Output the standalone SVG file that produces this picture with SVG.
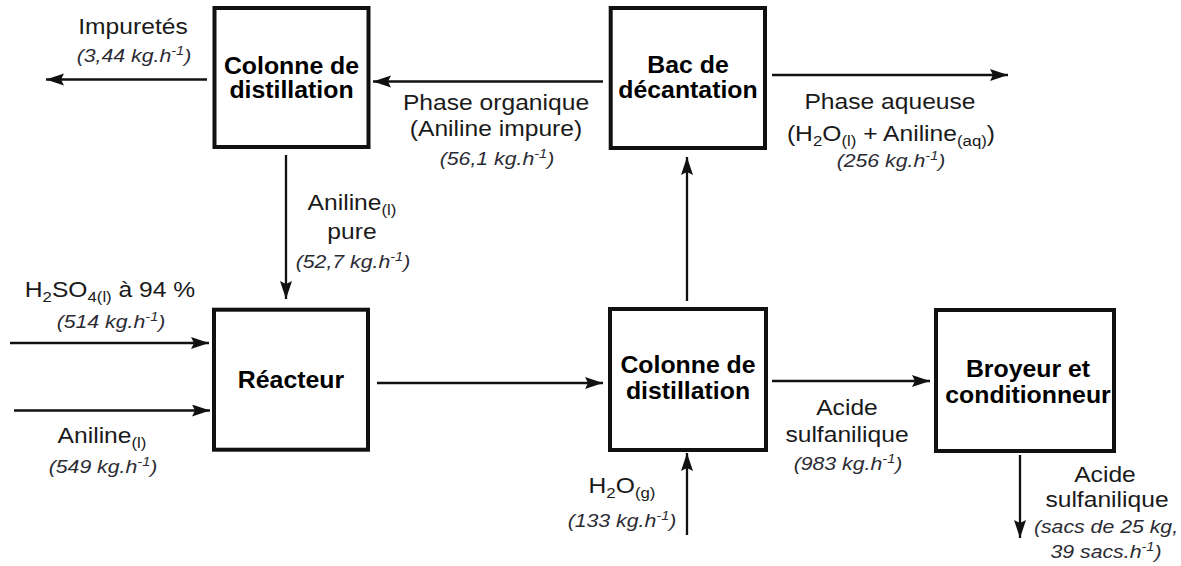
<svg xmlns="http://www.w3.org/2000/svg" width="1181" height="566" viewBox="0 0 1181 566">
<style>
  .box { fill: #fff; stroke: #111; stroke-width: 4; }
  .ln { fill: none; stroke: #111; stroke-width: 2.3; marker-end: url(#arr); }
  text { font-family: "Liberation Sans", Arial, sans-serif; text-anchor: middle; transform-box: fill-box; transform-origin: center; transform: scaleX(1.12); }
  .r { font-size: 22px; fill: #1a1a1a; }
  .b { font-size: 23px; font-weight: bold; fill: #000; transform: scaleX(1.08); }
  .i { font-size: 19px; font-style: italic; fill: #2b2b33; }
  .sub { font-size: 15px; }
  .sup { font-size: 13px; }
</style>
<defs>
  <marker id="arr" markerUnits="userSpaceOnUse" markerWidth="20" markerHeight="14" refX="18" refY="6" orient="auto">
    <path d="M0,0 L18,6 L0,12 L3,6 z" fill="#111"/>
  </marker>
</defs>

<g id="connectors">
  <line class="ln" x1="207" y1="79.5" x2="46" y2="79.5"/>
  <line class="ln" x1="603" y1="81.5" x2="373" y2="81.5"/>
  <line class="ln" x1="772" y1="75" x2="1008" y2="75"/>
  <line class="ln" x1="286" y1="155" x2="286" y2="299"/>
  <line class="ln" x1="10" y1="343" x2="209" y2="343"/>
  <line class="ln" x1="14" y1="410.5" x2="210" y2="410.5"/>
  <line class="ln" x1="377" y1="383" x2="603" y2="383"/>
  <line class="ln" x1="772" y1="381" x2="930" y2="381"/>
  <line class="ln" x1="687" y1="301" x2="687" y2="157"/>
  <line class="ln" x1="687" y1="535" x2="687" y2="453"/>
  <line class="ln" x1="1020" y1="455" x2="1020" y2="538"/>
</g>

<g id="colonne1">
  <rect class="box" x="214.5" y="8" width="154" height="139"/>
  <text class="b" x="291.5" y="74">Colonne de</text>
  <text class="b" x="291.5" y="98">distillation</text>
</g>

<g id="bac">
  <rect class="box" x="610.7" y="8" width="154.3" height="140"/>
  <text class="b" x="688" y="73">Bac de</text>
  <text class="b" x="688" y="98">décantation</text>
</g>

<g id="reacteur">
  <rect class="box" x="214" y="309.7" width="154" height="140"/>
  <text class="b" x="291" y="388">Réacteur</text>
</g>

<g id="colonne2">
  <rect class="box" x="610" y="309" width="156" height="141"/>
  <text class="b" x="688" y="373">Colonne de</text>
  <text class="b" x="688" y="399">distillation</text>
</g>

<g id="broyeur">
  <rect class="box" x="936" y="310" width="178" height="141"/>
  <text class="b" x="1028" y="377">Broyeur et</text>
  <text class="b" x="1028" y="403">conditionneur</text>
</g>

<g id="labels">
  <text class="r" x="133" y="34">Impuretés</text>
  <text class="i" x="134" y="62">(3,44 kg.h<tspan class="sup" dy="-7">-1</tspan><tspan dy="7">)</tspan></text>

  <text class="r" x="496" y="110">Phase organique</text>
  <text class="r" x="496" y="136">(Aniline impure)</text>
  <text class="i" x="497" y="165">(56,1 kg.h<tspan class="sup" dy="-7">-1</tspan><tspan dy="7">)</tspan></text>

  <text class="r" x="890" y="109">Phase aqueuse</text>
  <text class="r" x="891" y="141">(H<tspan class="sub" dy="5">2</tspan><tspan dy="-5">O</tspan><tspan class="sub" dy="5">(l)</tspan><tspan dy="-5"> + Aniline</tspan><tspan class="sub" dy="5">(aq)</tspan><tspan dy="-5">)</tspan></text>
  <text class="i" x="891" y="167">(256 kg.h<tspan class="sup" dy="-7">-1</tspan><tspan dy="7">)</tspan></text>

  <text class="r" x="352" y="210">Aniline<tspan class="sub" dy="5">(l)</tspan></text>
  <text class="r" x="352" y="239">pure</text>
  <text class="i" x="353" y="268">(52,7 kg.h<tspan class="sup" dy="-7">-1</tspan><tspan dy="7">)</tspan></text>

  <text class="r" x="110" y="297">H<tspan class="sub" dy="5">2</tspan><tspan dy="-5">SO</tspan><tspan class="sub" dy="5">4(l)</tspan><tspan dy="-5"> à 94 %</tspan></text>
  <text class="i" x="111" y="328">(514 kg.h<tspan class="sup" dy="-7">-1</tspan><tspan dy="7">)</tspan></text>

  <text class="r" x="102" y="443">Aniline<tspan class="sub" dy="5">(l)</tspan></text>
  <text class="i" x="103" y="473">(549 kg.h<tspan class="sup" dy="-7">-1</tspan><tspan dy="7">)</tspan></text>

  <text class="r" x="847" y="415">Acide</text>
  <text class="r" x="847" y="442">sulfanilique</text>
  <text class="i" x="848" y="470">(983 kg.h<tspan class="sup" dy="-7">-1</tspan><tspan dy="7">)</tspan></text>

  <text class="r" x="622" y="493">H<tspan class="sub" dy="5">2</tspan><tspan dy="-5">O</tspan><tspan class="sub" dy="5">(g)</tspan></text>
  <text class="i" x="622" y="527">(133 kg.h<tspan class="sup" dy="-7">-1</tspan><tspan dy="7">)</tspan></text>

  <text class="r" x="1105" y="482">Acide</text>
  <text class="r" x="1107" y="507">sulfanilique</text>
  <text class="i" x="1106" y="533">(sacs de 25 kg,</text>
  <text class="i" x="1106" y="558">39 sacs.h<tspan class="sup" dy="-7">-1</tspan><tspan dy="7">)</tspan></text>
</g>
</svg>
